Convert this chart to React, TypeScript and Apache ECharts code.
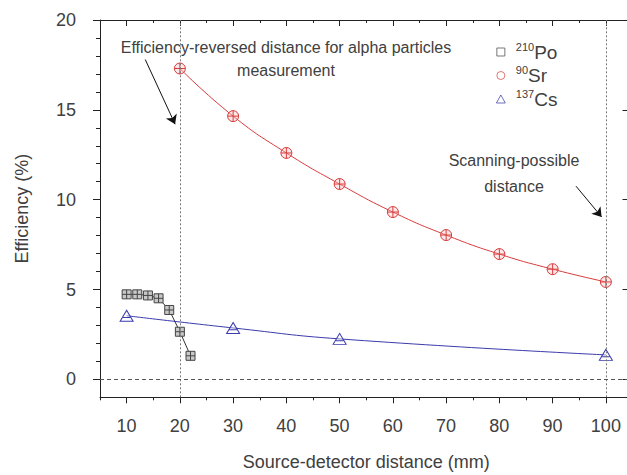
import React, { useEffect, useRef } from "react";
import * as echarts from "echarts";

const xPo = [10, 12, 14, 16, 18, 20, 22];
const yPo = [4.73, 4.73, 4.67, 4.51, 3.86, 2.65, 1.31];
const xSr = [20, 30, 40, 50, 60, 70, 80, 90, 100];
const ySr = [17.3, 14.65, 12.6, 10.87, 9.31, 8.03, 6.97, 6.13, 5.42];
const xCs = [10, 30, 50, 100];
const yCs = [3.54, 2.86, 2.25, 1.36];
const xMajor = [10, 20, 30, 40, 50, 60, 70, 80, 90, 100];
const xMinor = [5, 15, 25, 35, 45, 55, 65, 75, 85, 95];
const yMajor = [0, 5, 10, 15, 20];
const yMinor = [1, 2, 3, 4, 6, 7, 8, 9, 11, 12, 13, 14, 16, 17, 18, 19];
const isotopes: Record<string, string> = { Po: "210", Sr: "90", Cs: "137" };
const refX = [20, 100];
const refY = [0];
const annotation1 = "Efficiency-reversed distance for alpha particles\nmeasurement";
const annotation2 = "Scanning-possible\ndistance";
const arrow1 = [[13.5, 17.8], [19.1, 14.2]];
const arrow2 = [[94.39, 10.75], [99.2, 9.04]];

const FONT = "'Liberation Sans', Arial, sans-serif";
const TXT = "#404040";
const AX = "#222";

const SQUARE = "path://M0,0H10V10H0ZM5,0V10M0,5H10";
const CIRCLE = "path://M0,5A5,5,0,1,1,10,5A5,5,0,1,1,0,5ZM5,0V10M0,5H10";
const TRI = "path://M5,0L10,9L0,9ZM2.2,6H7.8";

export default function App() {
  const ref = useRef<HTMLDivElement>(null);
  useEffect(() => {
    document.body.style.margin = "0";
    const chart = echarts.init(ref.current!, null, { renderer: "svg" });
    const xMin = 5, xMax = 105, yMin = -1, yMax = 20;
    const baseX = { type: "value", min: xMin, max: xMax, splitLine: { show: false } };
    const baseY = { type: "value", min: yMin, max: yMax, splitLine: { show: false } };
    const option: any = {
      animation: false,
      backgroundColor: "#fff",
      grid: { left: 100, top: 20, width: 532.5, height: 377.3, containLabel: false, outerBoundsMode: "none" },
      legend: {
        orient: "vertical",
        left: 491,
        top: 36,
        itemWidth: 20,
        itemHeight: 8,
        itemGap: 3,
        symbolKeepAspect: true,
        data: [
          { name: "Po", icon: "path://M0,0H10V10H0Z", itemStyle: { color: "rgba(0,0,0,0)", borderColor: "#555", borderWidth: 0.8 } },
          { name: "Sr", icon: "path://M0,5A5,5,0,1,1,10,5A5,5,0,1,1,0,5Z", itemStyle: { color: "rgba(0,0,0,0)", borderColor: "#d85050", borderWidth: 0.8 } },
          { name: "Cs", icon: "path://M5,0L10,9L0,9Z", itemStyle: { color: "rgba(0,0,0,0)", borderColor: "#4a4ab0", borderWidth: 0.8 } },
        ],
        formatter: (name: string) => `{sup|${isotopes[name]}}{el|${name}}`,
        textStyle: {
          fontFamily: FONT,
          color: TXT,
          rich: {
            sup: { fontSize: 11, lineHeight: 12, verticalAlign: "top", fontFamily: FONT, color: TXT },
            el: { fontSize: 19, lineHeight: 22, fontFamily: FONT, color: TXT },
          },
        },
      },
      xAxis: [
        {
          ...baseX,
          position: "bottom",
          name: "Source-detector distance (mm)",
          nameLocation: "middle",
          nameGap: 56,
          nameTextStyle: { fontFamily: FONT, fontSize: 18, color: TXT },
          axisLine: { show: true, onZero: false, lineStyle: { color: AX, width: 1 } },
          axisTick: { show: true, inside: false, length: 6, customValues: xMajor, lineStyle: { color: AX } },
          axisLabel: { customValues: xMajor, margin: 20, fontFamily: FONT, fontSize: 18, color: TXT },
        },
        {
          ...baseX,
          position: "bottom",
          axisLine: { show: false, onZero: false },
          axisTick: { show: true, inside: false, length: 3, customValues: xMinor, lineStyle: { color: AX } },
          axisLabel: { show: false },
        },
        {
          ...baseX,
          position: "top",
          axisLine: { show: true, onZero: false, lineStyle: { color: AX, width: 1 } },
          axisTick: { show: true, inside: true, length: 6, customValues: xMajor, lineStyle: { color: AX } },
          axisLabel: { show: false },
        },
        {
          ...baseX,
          position: "top",
          axisLine: { show: false, onZero: false },
          axisTick: { show: true, inside: true, length: 3, customValues: xMinor, lineStyle: { color: AX } },
          axisLabel: { show: false },
        },
      ],
      yAxis: [
        {
          ...baseY,
          position: "left",
          name: "Efficiency (%)",
          nameLocation: "middle",
          nameGap: 69,
          nameTextStyle: { fontFamily: FONT, fontSize: 18, color: TXT },
          axisLine: { show: true, onZero: false, lineStyle: { color: AX, width: 1 } },
          axisTick: { show: true, inside: false, length: 7, customValues: yMajor, lineStyle: { color: AX } },
          axisLabel: { customValues: yMajor, margin: 24, fontFamily: FONT, fontSize: 18, color: TXT },
        },
        {
          ...baseY,
          position: "left",
          axisLine: { show: false, onZero: false },
          axisTick: { show: true, inside: false, length: 4, customValues: yMinor, lineStyle: { color: AX } },
          axisLabel: { show: false },
        },
        {
          ...baseY,
          position: "right",
          axisLine: { show: true, onZero: false, lineStyle: { color: AX, width: 1 } },
          axisTick: { show: true, inside: true, length: 10, customValues: yMajor, lineStyle: { color: AX } },
          axisLabel: { show: false },
        },
      ],
      graphic: [
        {
          type: "text",
          x: 286,
          y: 36,
          style: { text: annotation1, textAlign: "center", textVerticalAlign: "top", font: `16px ${FONT}`, fill: TXT, lineHeight: 23 },
        },
        {
          type: "text",
          x: 514,
          y: 147,
          style: { text: annotation2, textAlign: "center", textVerticalAlign: "top", font: `16px ${FONT}`, fill: TXT, lineHeight: 26 },
        },
      ],
      series: [
        {
          name: "Po",
          type: "line",
          xAxisIndex: 0,
          yAxisIndex: 0,
          data: xPo.map((x, i) => [x, yPo[i]]),
          symbol: SQUARE,
          symbolSize: 9,
          lineStyle: { color: "#333", width: 1 },
          itemStyle: { color: "#c8c8c8", borderColor: "#444", borderWidth: 1 },
          z: 3,
        },
        {
          name: "Sr",
          type: "line",
          xAxisIndex: 0,
          yAxisIndex: 0,
          data: xSr.map((x, i) => [x, ySr[i]]),
          smooth: true,
          symbol: CIRCLE,
          symbolSize: 11,
          lineStyle: { color: "#d83c3c", width: 1 },
          itemStyle: { color: "rgba(245,190,190,0.35)", borderColor: "#d83c3c", borderWidth: 1 },
          z: 3,
        },
        {
          name: "Cs",
          type: "line",
          xAxisIndex: 0,
          yAxisIndex: 0,
          data: xCs.map((x, i) => [x, yCs[i]]),
          smooth: true,
          symbol: TRI,
          symbolSize: [13, 11],
          lineStyle: { color: "#3b3bab", width: 1 },
          itemStyle: { color: "rgba(255,255,255,0.3)", borderColor: "#3b3bab", borderWidth: 1 },
          z: 3,
          markLine: {
            silent: true,
            symbol: "none",
            label: { show: false },
            data: [
              ...refX.map((v) => ({ xAxis: v, lineStyle: { color: "#777", type: [2, 2], width: 1 } })),
              ...refY.map((v) => ({ yAxis: v, lineStyle: { color: "#555", type: [4, 3], width: 1 } })),
              [
                { coord: arrow1[0], symbol: "none", lineStyle: { color: "#111", type: "solid", width: 1 } },
                { coord: arrow1[1], symbol: "arrow", symbolSize: 9 },
              ],
              [
                { coord: arrow2[0], symbol: "none", lineStyle: { color: "#111", type: "solid", width: 1 } },
                { coord: arrow2[1], symbol: "arrow", symbolSize: 9 },
              ],
            ],
          },
        },
      ],
    };
    chart.setOption(option);
    return () => chart.dispose();
  }, []);
  return <div ref={ref} style={{ width: 627, height: 475 }} />;
}
